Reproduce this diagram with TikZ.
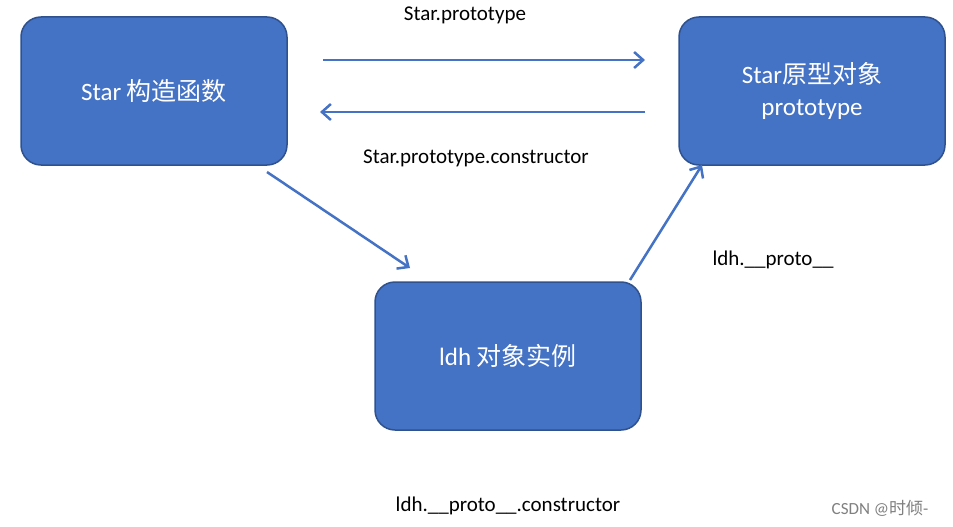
\documentclass[tikz,border=0pt]{standalone}
\usepackage{fontspec}
\setmainfont{Carlito}
\newfontfamily\cjk{Noto Sans CJK SC}
\usetikzlibrary{arrows.meta}
\definecolor{boxfill}{HTML}{4472C4}
\definecolor{boxline}{HTML}{2F528F}
\begin{document}
\begin{tikzpicture}[x=1pt,y=-1pt,
  bx/.style={draw=boxline,line width=1.5pt,fill=boxfill,rounded corners=20pt,minimum width=266pt,minimum height=148pt,text=white,font=\fontsize{25}{32}\selectfont,align=center},
  arr/.style={draw=boxfill,line width=2.5pt,-{Straight Barb[length=9pt,width=16pt,line width=2.5pt]}},
  lbl/.style={font=\fontsize{21}{25}\selectfont,inner sep=0pt}]
\useasboundingbox (0,0) rectangle (953,527);
\fill[white] (0,0) rectangle (953,527);
\node[bx] (star) at (154,91) {Star {\cjk 构造函数}};
\node[bx] (proto) at (812,91) {Star{\cjk 原型对象}\\prototype};
\node[bx] (ldh) at (508,356) {ldh {\cjk 对象实例}};
\coordinate (a1) at (323,60); \coordinate (a2) at (645,60);
\coordinate (b1) at (645,112); \coordinate (b2) at (320,112);
\coordinate (c1) at (267,172); \coordinate (c2) at (410,268);
\coordinate (d1) at (630,280); \coordinate (d2) at (702,165);
\draw[arr] (a1) -- (a2);
\draw[arr] (b1) -- (b2);
\draw[arr] (c1) -- (c2);
\draw[arr] (d1) -- (d2);
\node[lbl] (l1) at (465,15) {Star.prototype};
\node[lbl] (l2) at (476,158) {Star.prototype.constructor};
\node[lbl] (l3) at (773,260) {ldh.\_\_proto\_\_};
\node[lbl] (l4) at (508,506) {ldh.\_\_proto\_\_.constructor};
\node[font=\fontsize{17}{20}\selectfont,text=gray,inner sep=0pt] (w) at (880,508) {CSDN @{\cjk 时倾}-};
\end{tikzpicture}
\end{document}
